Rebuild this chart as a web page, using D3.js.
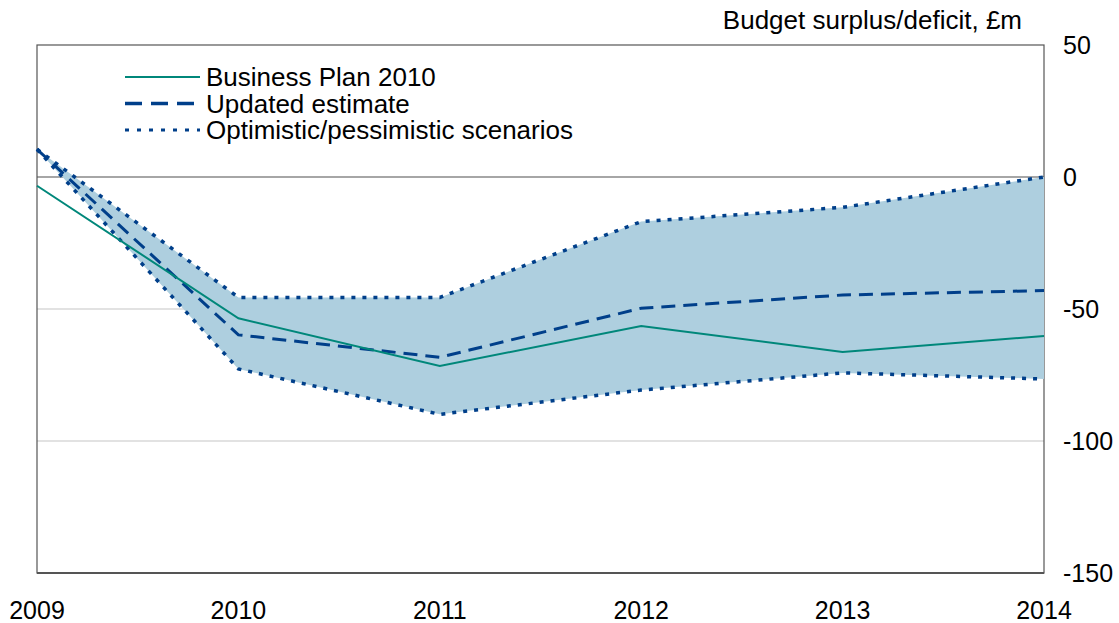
<!DOCTYPE html>
<html>
<head>
<meta charset="utf-8">
<script src="https://cdn.jsdelivr.net/npm/d3@7"></script>
<style>
  body { margin: 0; background: #fff; }
  svg { display: block; font-family: "Liberation Sans", Arial, sans-serif; }
</style>
</head>
<body>
<div id="chart"></div>
<script>
'use strict';

// data
var years = [2009, 2010, 2011, 2012, 2013, 2014];
var businessPlan = [-3.3, -53.5, -71.6, -56.4, -66.3, -60.2];
var updatedEstimate = [10.5, -59.8, -68.3, -49.7, -44.7, -43];
var optimistic = [10.5, -45.6, -45.6, -16.9, -11.5, 0];
var pessimistic = [10.5, -72.7, -89.9, -80.7, -74.2, -76.5];
var yTicks = [50, 0, -50, -100, -150];
var legendLabels = ['Business Plan 2010', 'Updated estimate', 'Optimistic/pessimistic scenarios'];

DrawChart();

function DrawChart() {
	var WIDTH = 1119,
		HEIGHT = 623;
	var left = 37, right = 1044, top = 45, bottom = 573;

	var navy = '#003f8a',
		teal = '#00877a',
		fill = '#aecfdf';

	var svg = d3.select('#chart').append('svg')
		.attr('width', WIDTH)
		.attr('height', HEIGHT);

	var x = d3.scaleLinear().domain([2009, 2014]).range([left, right]);
	var y = d3.scaleLinear().domain([-150, 50]).range([bottom, top]);

	// gridlines
	svg.selectAll('.grid')
		.data([-50, -100])
		.enter().append('line')
			.attr('x1', left).attr('x2', right)
			.attr('y1', function(d) { return y(d); })
			.attr('y2', function(d) { return y(d); })
			.attr('stroke', '#d9d9d9')
			.attr('stroke-width', 1.5);

	// zero line
	svg.append('line')
		.attr('x1', left).attr('x2', right)
		.attr('y1', y(0)).attr('y2', y(0))
		.attr('stroke', '#a6a6a6')
		.attr('stroke-width', 2);

	// frame
	svg.append('rect')
		.attr('x', left).attr('y', top)
		.attr('width', right - left).attr('height', bottom - top)
		.attr('fill', 'none')
		.attr('stroke', '#555')
		.attr('stroke-width', 1.2);
	svg.append('line')
		.attr('x1', left).attr('x2', right)
		.attr('y1', bottom).attr('y2', bottom)
		.attr('stroke', '#555')
		.attr('stroke-width', 2);

	// scenario band
	var band = years.map(function(yr, i) { return { yr: yr, lo: pessimistic[i], hi: optimistic[i] }; });
	svg.append('path')
		.datum(band)
		.attr('fill', fill)
		.attr('d', d3.area()
			.x(function(d) { return x(d.yr); })
			.y0(function(d) { return y(d.lo); })
			.y1(function(d) { return y(d.hi); }));

	var line = d3.line()
		.x(function(d) { return x(d[0]); })
		.y(function(d) { return y(d[1]); });

	function pairs(vals) {
		return years.map(function(yr, i) { return [yr, vals[i]]; });
	}

	// scenario edges
	[optimistic, pessimistic].forEach(function(vals) {
		svg.append('path')
			.datum(pairs(vals))
			.attr('fill', 'none')
			.attr('stroke', navy)
			.attr('stroke-width', 3.5)
			.attr('stroke-dasharray', '4,7')
			.attr('d', line);
	});

	// updated estimate
	svg.append('path')
		.datum(pairs(updatedEstimate))
		.attr('fill', 'none')
		.attr('stroke', navy)
		.attr('stroke-width', 3)
		.attr('stroke-dasharray', '14,8')
		.attr('d', line);

	// business plan
	svg.append('path')
		.datum(pairs(businessPlan))
		.attr('fill', 'none')
		.attr('stroke', teal)
		.attr('stroke-width', 2)
		.attr('d', line);

	// y tick labels on the right
	svg.selectAll('.ytick')
		.data(yTicks)
		.enter().append('text')
			.attr('x', 1063)
			.attr('y', function(d) { return y(d) + 9; })
			.attr('font-size', 25)
			.attr('fill', '#000')
			.text(function(d) { return d; });

	// x tick labels
	svg.selectAll('.xtick')
		.data(years)
		.enter().append('text')
			.attr('x', function(d) { return x(d); })
			.attr('y', 619)
			.attr('text-anchor', 'middle')
			.attr('font-size', 25)
			.attr('fill', '#000')
			.text(function(d) { return d; });

	// axis title
	svg.append('text')
		.attr('x', 1022)
		.attr('y', 29)
		.attr('text-anchor', 'end')
		.attr('font-size', 26)
		.attr('fill', '#000')
		.text('Budget surplus/deficit, £m');

	// legend
	var styles = [
		{ stroke: teal, width: 2, dash: null },
		{ stroke: navy, width: 3.5, dash: '17,9' },
		{ stroke: navy, width: 3, dash: '4,8' }
	];
	var legend = svg.selectAll('.legend')
		.data(legendLabels)
		.enter().append('g')
			.attr('transform', function(d, i) { return 'translate(0,' + (77 + i * 26.5) + ')'; });
	legend.append('line')
		.attr('x1', 125).attr('x2', 200)
		.attr('y1', 0).attr('y2', 0)
		.attr('stroke', function(d, i) { return styles[i].stroke; })
		.attr('stroke-width', function(d, i) { return styles[i].width; })
		.attr('stroke-dasharray', function(d, i) { return styles[i].dash; });
	legend.append('text')
		.attr('x', 206)
		.attr('y', 9)
		.attr('font-size', 26)
		.attr('fill', '#000')
		.text(function(d) { return d; });
}
</script>
</body>
</html>
